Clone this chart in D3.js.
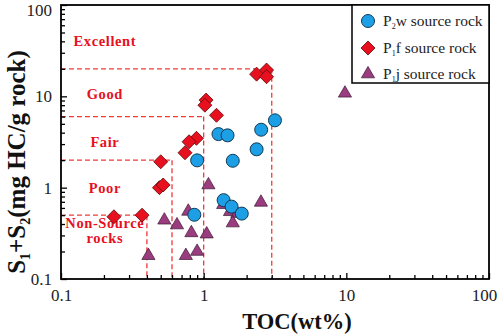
<!DOCTYPE html>
<html><head><meta charset="utf-8">
<script src="https://cdn.jsdelivr.net/npm/d3@7"></script>
<style>body{margin:0;background:#fff}svg{display:block}svg text{font-family:"Liberation Serif","Times New Roman",serif}</style>
</head><body>
<svg id="c" width="498" height="336"></svg>
<script>
// P2w source rock (blue circles)
const p2wTOC = [1.27, 1.47, 3.16, 2.53, 2.35, 0.90, 1.60, 1.38, 1.57, 1.85, 0.86];
const p2wS   = [3.86, 3.74, 5.46, 4.31, 2.63, 1.99, 1.97, 0.73, 0.62, 0.52, 0.505];
// P1f source rock (red diamonds)
const p1fTOC = [2.35, 2.76, 2.76, 1.04, 1.02, 1.23, 0.89, 0.79, 0.74, 0.50, 0.49, 0.52, 0.235, 0.37];
const p1fS   = [17.5, 19.4, 16.4, 9.1, 8.0, 6.2, 3.47, 3.18, 2.41, 1.92, 1.0, 1.07, 0.48, 0.50];
// P1j source rock (purple triangles)
const p1jTOC = [9.78, 2.52, 1.08, 0.78, 0.53, 0.65, 0.82, 1.05, 0.75, 0.90, 0.41, 1.37, 1.53, 1.72, 1.60];
const p1jS   = [10.8, 0.69, 1.07, 0.55, 0.44, 0.39, 0.32, 0.31, 0.18, 0.20, 0.18, 0.65, 0.545, 0.52, 0.41];
// Grade boundaries: [TOC limit, S1+S2 limit]
const boundTOC = [3, 1, 0.6, 0.4];
const boundS   = [20, 6, 2, 0.5];
const gradeLabels = ["Excellent", "Good", "Fair", "Poor", "Non-Source", "rocks"];
const gradeY = [35.6, 9.3, 2.8, 0.88, 0.36, 0.245];
const gradeX = 0.203;
const xTicks = [0.1, 1, 10, 100];
const yTicks = [0.1, 1, 10, 100];

const svg = d3.select("#c");
const L = 61, R = 489, T = 5, B = 279;
const x = d3.scaleLog().domain([0.1, 100]).range([L, R]);
const y = d3.scaleLog().domain([0.1, 100]).range([B, T]);

const minor = [];
for (let d = 0.1; d < 100; d *= 10) for (let k = 2; k <= 9; k++) minor.push(+(d * k).toPrecision(3));

// dashed boundaries
const red = "#ef3b3b";
boundTOC.forEach((bt, i) => {
  const bs = boundS[i];
  svg.append("line").attr("x1", x(0.1)).attr("x2", x(bt)).attr("y1", y(bs)).attr("y2", y(bs))
    .attr("stroke", red).attr("stroke-width", 1.3).attr("stroke-dasharray", "5,3");
  svg.append("line").attr("x1", x(bt)).attr("x2", x(bt)).attr("y1", y(bs)).attr("y2", y(0.1))
    .attr("stroke", red).attr("stroke-width", 1.3).attr("stroke-dasharray", "5,3");
});

// grade labels
gradeLabels.forEach((t, i) => {
  svg.append("text").attr("x", x(gradeX)).attr("y", y(gradeY[i])).attr("text-anchor", "middle")
    .attr("font-weight", "bold").attr("font-size", 14.5)
    .attr("letter-spacing", 0.6).attr("fill", "#e8101e").text(t);
});

// axes
const gx = svg.append("g").attr("transform", `translate(0,${B})`);
gx.call(d3.axisBottom(x).tickValues(xTicks).tickFormat(d => d3.format("~g")(d)).tickSizeInner(-6).tickSizeOuter(0).tickPadding(10));
const gxm = svg.append("g").attr("transform", `translate(0,${B})`);
gxm.call(d3.axisBottom(x).tickValues(minor).tickFormat("").tickSizeInner(-4).tickSizeOuter(0));
const gy = svg.append("g").attr("transform", `translate(${L},0)`);
gy.call(d3.axisLeft(y).tickValues(yTicks).tickFormat(d => d3.format("~g")(d)).tickSizeInner(-6).tickSizeOuter(0).tickPadding(9));
const gym = svg.append("g").attr("transform", `translate(${L},0)`);
gym.call(d3.axisLeft(y).tickValues(minor).tickFormat("").tickSizeInner(-4).tickSizeOuter(0));
[gx, gxm, gy, gym].forEach(g => {
  g.attr("font-family", null);
  g.select(".domain").remove();
  g.selectAll("line").attr("stroke", "#000").attr("stroke-width", 1.3);
  g.selectAll("text").attr("font-size", 17).attr("fill", "#222");
});
gy.selectAll(".tick").filter(d => d === 100).select("text").attr("dy", "0.6em");
gx.selectAll(".tick").filter(d => d === 100).select("text").attr("dx", -5);

// frame
svg.append("rect").attr("x", L).attr("y", T).attr("width", R - L).attr("height", B - T)
  .attr("fill", "none").attr("stroke", "#000").attr("stroke-width", 1.8);

// markers
const triPath = d3.symbol().type(d3.symbolTriangle).size(75)();
const diaPath = "M0,-7L7,0L0,7L-7,0Z";
const sym = {
  tri: g => g.append("path").attr("d", triPath).attr("fill", "#9b3b80").attr("stroke", "#3a1a30").attr("stroke-width", 0.7),
  dia: g => g.append("path").attr("d", diaPath).attr("fill", "#e8101e").attr("stroke", "#5a0a0a").attr("stroke-width", 0.8),
  cir: g => g.append("circle").attr("r", 6.5).attr("fill", "#1d9fe6").attr("stroke", "#123a55").attr("stroke-width", 1)
};
function plot(xs, ys, kind) {
  xs.forEach((v, i) => {
    const g = svg.append("g").attr("transform", `translate(${x(v)},${y(ys[i])})`);
    sym[kind](g);
  });
}
plot(p1jTOC, p1jS, "tri");
plot(p1fTOC, p1fS, "dia");
plot(p2wTOC, p2wS, "cir");

// legend
const lg = svg.append("g");
lg.append("rect").attr("x", 352).attr("y", T).attr("width", R - 352).attr("height", 78)
  .attr("fill", "#fff").attr("stroke", "#000").attr("stroke-width", 1.5);
const items = [
  {kind: "cir", main: "P", sub: "2", rest: "w source rock", yy: 21},
  {kind: "dia", main: "P", sub: "1", rest: "f source rock", yy: 48},
  {kind: "tri", main: "P", sub: "1", rest: "j source rock", yy: 74}
];
items.forEach(it => {
  const g = lg.append("g").attr("transform", `translate(368,${it.yy})`);
  sym[it.kind](g);
  const t = lg.append("text").attr("x", 383).attr("y", it.yy + 5)
    .attr("font-size", 15.5).attr("fill", "#222");
  t.append("tspan").text(it.main);
  t.append("tspan").attr("font-size", 8).attr("dy", 3).text(it.sub);
  t.append("tspan").attr("dy", -3).text(it.rest);
});

// axis titles
svg.append("text").attr("x", 297).attr("y", 329).attr("text-anchor", "middle")
  .attr("font-weight", "bold").attr("font-size", 22.5).attr("fill", "#111")
  .text("TOC(wt%)");
const yt = svg.append("text").attr("transform", "translate(25,162) rotate(-90)").attr("text-anchor", "middle")
  .attr("font-weight", "bold").attr("font-size", 25).attr("fill", "#111");
yt.append("tspan").text("S");
yt.append("tspan").attr("font-size", 14).attr("dy", 5).text("1");
yt.append("tspan").attr("dy", -5).text("+S");
yt.append("tspan").attr("font-size", 14).attr("dy", 5).text("2");
yt.append("tspan").attr("dy", -5).text("(mg HC/g rock)");
</script>
</body></html>
